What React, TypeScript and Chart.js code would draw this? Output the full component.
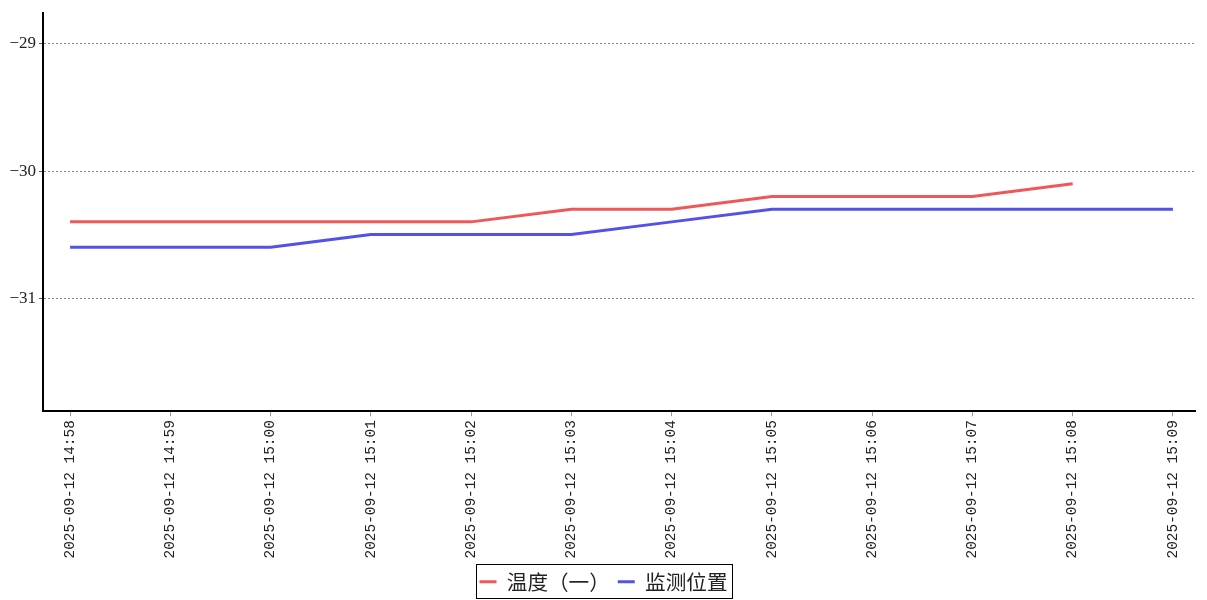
import React, { useEffect, useRef } from "react";
import { Chart, registerables } from "chart.js";

Chart.register(...registerables);

const timeLabels = [
  "2025-09-12 14:58",
  "2025-09-12 14:59",
  "2025-09-12 15:00",
  "2025-09-12 15:01",
  "2025-09-12 15:02",
  "2025-09-12 15:03",
  "2025-09-12 15:04",
  "2025-09-12 15:05",
  "2025-09-12 15:06",
  "2025-09-12 15:07",
  "2025-09-12 15:08",
  "2025-09-12 15:09",
];
const tempValues: (number | null)[] = [-30.4, -30.4, -30.4, -30.4, -30.4, -30.3, -30.3, -30.2, -30.2, -30.2, -30.1, null];
const posValues: (number | null)[] = [-30.6, -30.6, -30.6, -30.5, -30.5, -30.5, -30.4, -30.3, -30.3, -30.3, -30.3, -30.3];
const yTickValues = [-31, -30, -29];
const seriesNames = ["温度（一）", "监测位置"];

const tickFont = { family: "'Liberation Mono', monospace", size: 14.4 };

const legendBorder = {
  id: "legendBorder",
  afterDraw(chart: any) {
    const lg = chart.legend;
    if (!lg || !lg.legendHitBoxes || !lg.legendHitBoxes.length) return;
    const boxes = lg.legendHitBoxes;
    let l = Infinity, r = -Infinity, t = Infinity, b = -Infinity;
    for (const h of boxes) {
      l = Math.min(l, h.left);
      r = Math.max(r, h.left + h.width);
      t = Math.min(t, h.top);
      b = Math.max(b, h.top + h.height);
    }
    const ctx = chart.ctx;
    ctx.save();
    ctx.strokeStyle = "#000";
    ctx.lineWidth = 1;
    ctx.strokeRect(Math.round(l - 4) + 0.5, Math.round(t - 7) + 0.5, Math.round(r - l + 8), Math.round(b - t + 13));
    ctx.restore();
  },
};

export default function App() {
  const ref = useRef<HTMLCanvasElement | null>(null);
  useEffect(() => {
    document.body.style.margin = "0";
    const ctx = ref.current!.getContext("2d")!;
    const chart = new Chart(ctx, {
      type: "line",
      data: {
        datasets: [
          {
            label: seriesNames[0],
            data: tempValues.map((v, i) => ({ x: i, y: v })) as any,
            borderColor: "#ee5858",
            backgroundColor: "#ee5858",
            borderWidth: 3,
            pointRadius: 0,
            tension: 0,
            spanGaps: false,
          },
          {
            label: seriesNames[1],
            data: posValues.map((v, i) => ({ x: i, y: v })) as any,
            borderColor: "#5252e6",
            backgroundColor: "#5252e6",
            borderWidth: 3,
            pointRadius: 0,
            tension: 0,
          },
        ],
      },
      options: {
        animation: false,
        responsive: false,
        maintainAspectRatio: false,
        layout: { padding: { left: 0, right: 0, top: 4, bottom: -2 } },
        plugins: {
          tooltip: { enabled: false },
          legend: {
            position: "bottom",
            labels: {
              usePointStyle: true,
              pointStyle: "line",
              pointStyleWidth: 17,
              boxHeight: 16,
              padding: 8,
              color: "#222",
              font: { family: "'Noto Sans CJK SC', sans-serif", size: 20.6 },
            },
          },
        },
        scales: {
          x: {
            type: "linear",
            min: -0.27,
            max: 11.22,
            afterBuildTicks: (axis: any) => {
              axis.ticks = timeLabels.map((_, i) => ({ value: i }));
            },
            afterFit: (scale: any) => {
              scale.height += 1;
              scale.paddingRight = 12;
            },
            ticks: {
              autoSkip: false,
              maxRotation: 90,
              minRotation: 90,
              color: "#222",
              font: tickFont,
              padding: 4,
              callback: (v: any) => timeLabels[v as number] ?? "",
            },
            grid: {
              drawOnChartArea: false,
              drawTicks: true,
              tickLength: 5,
              tickColor: "#999",
            },
            border: { color: "#000", width: 2 },
          },
          y: {
            min: -31.89,
            max: -28.758,
            afterBuildTicks: (axis: any) => {
              axis.ticks = yTickValues.map((v) => ({ value: v }));
            },
            afterFit: (scale: any) => {
              scale.width = 43;
            },
            ticks: {
              color: "#222",
              font: { family: "'Liberation Serif', serif", size: 17 },
              padding: 3,
              callback: (v: any) => String(v).replace("-", "\u2212"),
            },
            grid: {
              color: "#888",
              tickBorderDash: [],
              tickColor: "#555",
              tickLength: 4,
              lineWidth: 1,
            },
            border: { color: "#000", width: 2, dash: [2, 2] },
          },
        },
      },
      plugins: [legendBorder],
    } as any);
    return () => chart.destroy();
  }, []);
  return (
    <div style={{ position: "absolute", left: 0, top: 0, width: 1207, height: 600 }}>
      <canvas ref={ref} width={1207} height={600} style={{ width: 1207, height: 600 }} />
    </div>
  );
}
